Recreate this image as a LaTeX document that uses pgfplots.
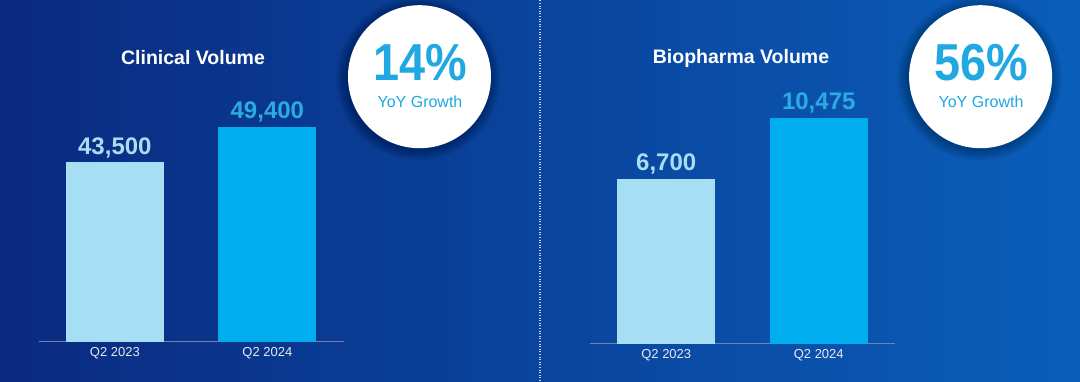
\documentclass[border=0pt]{standalone}
\usepackage{pgfplots}
\pgfplotsset{compat=1.18}
\usepackage{fontspec}
\setmainfont{Liberation Sans}
\definecolor{bgl}{HTML}{0A2A80}
\definecolor{bgr}{HTML}{0A5EBA}
\definecolor{barl}{HTML}{A6DFF3}
\definecolor{barb}{HTML}{00AEEF}
\definecolor{labl}{HTML}{A9DDF2}
\definecolor{labb}{HTML}{2AABE2}
\definecolor{circt}{HTML}{1FA8E1}
\definecolor{tickc}{HTML}{E6EAF2}
\definecolor{axisc}{HTML}{7482AA}
\definecolor{dotc}{HTML}{C8D8F0}
\pgfplotsset{
  panel/.style={
    scale only axis, width=305pt,
    xmin=-0.5, xmax=1.5,
    axis y line=none, axis x line*=bottom,
    x axis line style={draw=axisc, line width=1.2pt, -},
    xtick={0,1}, xticklabels={Q2 2023,Q2 2024},
    major tick length=0pt, ytick=\empty,
    xticklabel style={font=\fontsize{13}{13}\selectfont, text=tickc, anchor=base, yshift=-15pt},
    every node near coord/.append style={anchor=base, inner sep=0pt, yshift=8pt, font=\bfseries\fontsize{24}{24}\selectfont},
    /pgf/number format/1000 sep={,},
    /pgf/number format/assume math mode=true,
  }
}
\begin{document}
\begin{tikzpicture}[x=1pt,y=1pt]
\shade[left color=bgl, right color=bgr] (0,0) rectangle (1080,381);
\path[use as bounding box] (0,0) rectangle (1080,381);
\draw[dotc, dash pattern=on 1pt off 1.6pt, line width=1.1pt] (540,0) -- (540,381);

% Left panel
\begin{axis}[panel, at={(38.6pt,39.3pt)}, anchor=south west, height=321.7pt, ymin=13515, ymax=67284]
\addplot[ybar, bar width=98pt, bar shift=0pt, fill=barl, draw=none, nodes near coords, every node near coord/.append style={text=labl}] coordinates {(0,43500)};
\addplot[ybar, bar width=98pt, bar shift=0pt, fill=barb, draw=none, nodes near coords, every node near coord/.append style={text=labb}] coordinates {(1,49400)};
\end{axis}

% Right panel (value axis does not start at zero: bars drawn from the axis floor)
\begin{axis}[panel, at={(590pt,37.3pt)}, anchor=south west, height=323.7pt, ymin=-3493, ymax=16539]
\addplot[fill=barl, draw=none] coordinates {(-0.3213,-3493) (-0.3213,6700) (0.3213,6700) (0.3213,-3493)} -- cycle;
\addplot[fill=barb, draw=none] coordinates {(0.6787,-3493) (0.6787,10475) (1.3213,10475) (1.3213,-3493)} -- cycle;
\addplot[draw=none, mark=none, nodes near coords, every node near coord/.append style={text=labl}] coordinates {(0,6700)};
\addplot[draw=none, mark=none, nodes near coords, every node near coord/.append style={text=labb}] coordinates {(1,10475)};
\end{axis}

% Titles
\node[font=\bfseries\fontsize{19.5}{20}\selectfont, text=white] at (193,323) {Clinical Volume};
\node[font=\bfseries\fontsize{19.5}{20}\selectfont, text=white] at (741,323) {Biopharma Volume};

% Circles
\foreach \cx in {419.5,980.6} {
  \foreach \i in {1,...,12} {
    \fill[black, opacity=0.022] (\cx-1,302.5) circle ({71.5+\i*0.9});
  }
  \fill[white] (\cx,304.3) circle (71.5);
}
\node[font=\bfseries\fontsize{52}{52}\selectfont, text=circt, inner sep=0pt] at (420,318) {\scalebox{0.9}[1]{14\%}};
\node[font=\fontsize{16}{16}\selectfont, text=circt, inner sep=0pt] at (420,279) {YoY Growth};
\node[font=\bfseries\fontsize{52}{52}\selectfont, text=circt, inner sep=0pt] at (981,318) {\scalebox{0.9}[1]{56\%}};
\node[font=\fontsize{16}{16}\selectfont, text=circt, inner sep=0pt] at (981,279) {YoY Growth};
\end{tikzpicture}
\end{document}
